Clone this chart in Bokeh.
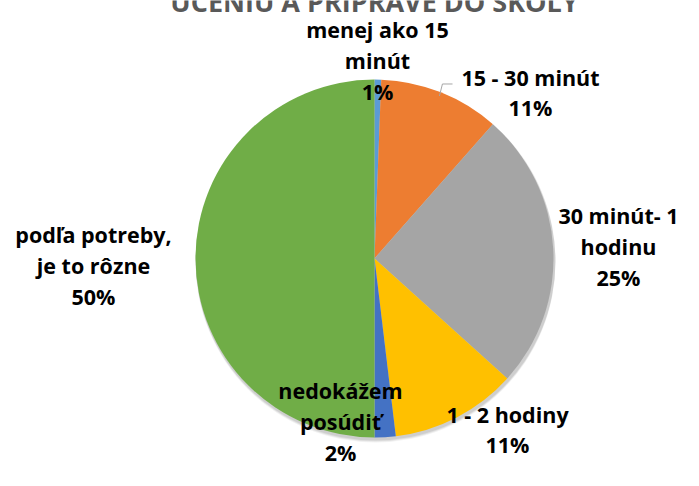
import math
from bokeh.plotting import figure
from bokeh.models import Range1d, ColumnDataSource
from bokeh.core.properties import value
from bokeh.embed import file_html
from bokeh.resources import INLINE

# ---- data ----
title_text = "UČENIU A PRÍPRAVE DO ŠKOLY"
categories = ["menej ako 15\nminút", "15 - 30 minút", "30 minút- 1\nhodinu",
              "1 - 2 hodiny", "nedokážem\nposúdiť", "podľa potreby,\nje to rôzne"]
shares = [0.6, 10.9, 25.2, 11.4, 1.9, 50.0]
colors = ["#5B9BD5", "#ED7D31", "#A5A5A5", "#FFC000", "#4472C4", "#70AD47"]

# ---- layout (reference pixel space, y up) ----
IMG_H = 486
W, H = 683, 470

cx, cy, r = 374, IMG_H - 258, 179
# label block centres (reference pixels, y down)
label_pos = [(377, 60), (530, 92), (618, 246), (507, 429), (340, 421), (93, 265)]
FONT = value("Open Sans")
FS = 21.5
LINE = 31.0
EM_BOX = 1.362  # Open Sans ascent + descent

p = figure(width=W, height=H, x_range=Range1d(0, W), y_range=Range1d(IMG_H - H, IMG_H),
           x_axis_type=None, y_axis_type=None, output_backend="svg",
           toolbar_location=None, min_border=0)
p.grid.visible = False
p.outline_line_color = None
p.background_fill_color = "white"

total = sum(shares)
starts, ends, mids = [], [], []
c = 0.0
for s in shares:
    a0 = math.pi / 2 - 2 * math.pi * c / total
    c += s
    a1 = math.pi / 2 - 2 * math.pi * c / total
    starts.append(a0); ends.append(a1); mids.append((a0 + a1) / 2)

labels = [f"{cat}\n{round(s / total * 100)}%" for cat, s in zip(categories, shares)]

# soft shadow
for k, a in [(4, 0.05), (3, 0.07), (2, 0.08)]:
    p.circle(x=[cx + 1], y=[cy - k], radius=r + 1, fill_color="#000000", fill_alpha=a, line_color=None)

src = ColumnDataSource(dict(start=starts, end=ends, color=colors))
p.wedge(x=cx, y=cy, radius=r, start_angle="start", end_angle="end", direction="clock",
        fill_color="color", line_color=None, source=src)

# leader line for 15 - 30 minút
m = mids[1]
px, py = cx + (r - 4) * math.cos(m), cy + (r - 4) * math.sin(m)
lx = label_pos[1][0] - 78
p.line([px, px + 3, lx], [py, py + 12, py + 12], line_color="#A6A6A6", line_width=1)

lsrc = ColumnDataSource(dict(x=[q[0] for q in label_pos], y=[IMG_H - q[1] for q in label_pos], text=labels))
p.text(x="x", y="y", text="text", source=lsrc, text_align="center", text_baseline="middle",
       text_font=FONT, text_font_style="bold", text_font_size=f"{FS}px",
       text_line_height=LINE / (FS * EM_BOX), text_color="black")

p.text(x=[374], y=[IMG_H - 0.5], text=[title_text], text_align="center", text_baseline="middle",
       text_font=FONT, text_font_style="bold", text_font_size="27px", text_color="#595959")

open("out.html", "w").write(file_html(p, INLINE))
